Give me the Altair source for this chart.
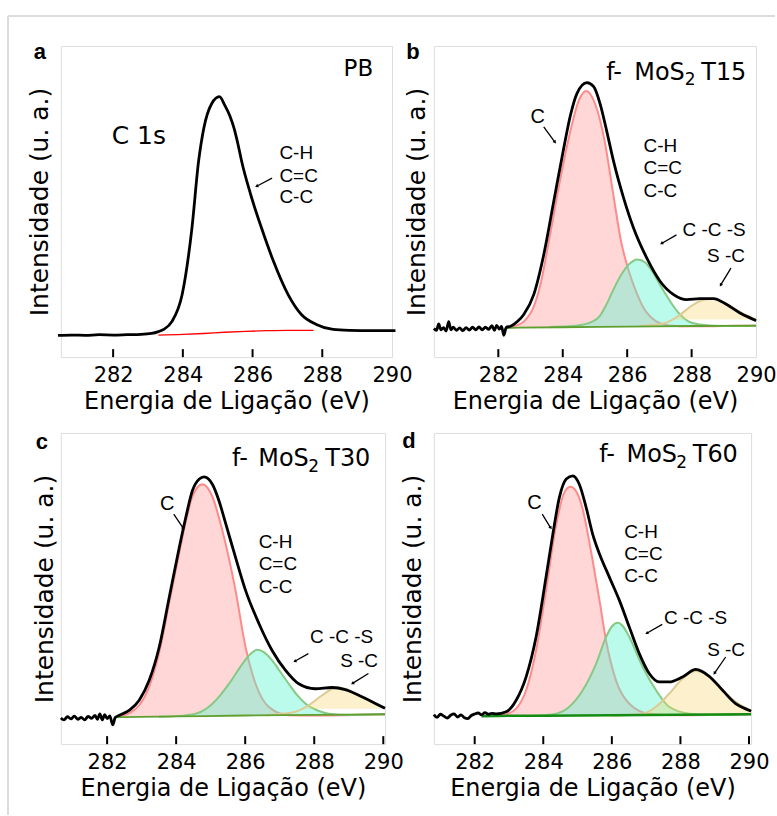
import altair as alt
import numpy as np
import pandas as pd

TICK_VALUES = [282, 284, 286, 288, 290]
X_TITLE = "Energia de Ligação (eV)"
Y_TITLE = "Intensidade (u. a.)"

# ---------------- (a) PB ----------------
A_ENV_E = [280.42, 280.8, 281.2, 281.6, 282.0, 282.4, 282.8, 283.1, 283.3, 283.45,
           283.69, 283.98, 284.26, 284.45, 284.60, 284.83, 285.05, 285.20, 285.35, 285.47,
           285.58, 285.69, 285.95, 286.26, 286.60, 287.02, 287.40, 287.83, 288.31, 288.8,
           289.4, 290.1]
A_ENV_I = [0.70, 0.71, 0.70, 0.72, 0.71, 0.72, 0.73, 0.76, 0.82, 0.89,
           1.15, 2.01, 4.14, 6.28, 7.35, 8.15, 8.37, 8.10, 7.75, 7.35,
           6.85, 6.28, 5.21, 4.14, 3.08, 2.01, 1.37, 1.05, 0.89, 0.86,
           0.85, 0.85]
A_BG_E = [283.3, 284.0, 284.6, 285.2, 285.8, 286.4, 287.0, 287.75]
A_BG_I = [0.71, 0.73, 0.76, 0.80, 0.83, 0.85, 0.86, 0.86]

# ---------------- (b) f-MoS2 T15 ----------------
B_ENV_E = [280.00, 280.08, 280.15, 280.22, 280.30, 280.38, 280.46, 280.53, 280.60, 280.70,
           280.80, 280.90, 281.00, 281.10, 281.20, 281.30, 281.40, 281.50, 281.60, 281.70,
           281.80, 281.88, 281.95, 282.03, 282.10, 282.17, 282.25, 282.38, 282.60, 282.79,
           283.10, 283.41, 283.72, 284.03, 284.24, 284.44, 284.75, 284.96, 285.17, 285.37,
           285.58, 285.89, 286.20, 286.61, 287.02, 287.44, 287.85, 288.26, 288.68, 289.09,
           289.50, 289.92, 290.00]
B_ENV_I = [0.92, 0.86, 1.07, 0.88, 0.95, 0.84, 1.14, 0.88, 0.96, 0.86,
           0.94, 0.85, 0.95, 0.87, 0.96, 0.88, 0.97, 0.88, 0.96, 0.89,
           1.01, 0.86, 1.02, 0.90, 0.99, 0.70, 0.96, 0.99, 1.15, 1.37,
           2.01, 3.29, 5.00, 6.71, 7.78, 8.47, 8.82, 8.69, 8.10, 7.24,
           6.28, 5.11, 4.14, 3.18, 2.44, 2.01, 1.85, 1.88, 1.88, 1.69,
           1.42, 1.21, 1.17]
B_BASE_E = [282.17, 282.22, 282.6, 284.0, 286.0, 288.0, 290.0]
B_BASE_I = [0.72, 0.93, 0.95, 0.96, 0.98, 1.00, 1.01]
B_C_E = [282.22, 282.5, 282.8, 283.1, 283.3, 283.6, 283.9, 284.2, 284.5, 284.73,
         285.0, 285.3, 285.55, 285.81, 286.07, 286.3, 286.5, 286.9, 287.3, 288.0,
         289.0, 290.0]
B_C_I = [0.93, 1.0, 1.15, 1.62, 2.3, 3.9, 5.6, 7.1, 8.25, 8.55,
         8.15, 6.95, 5.35, 3.72, 2.70, 2.05, 1.60, 1.15, 1.02, 0.99,
         1.0, 1.01]
B_CCS_E = [283.6, 284.2, 284.6, 284.9, 285.14, 285.35, 285.55, 285.8, 286.05, 286.32,
           286.55, 286.8, 287.0, 287.2, 287.42, 287.64, 287.9, 288.26, 288.7, 289.3, 290.0]
B_CCS_I = [0.97, 0.99, 1.04, 1.13, 1.31, 1.68, 2.12, 2.62, 2.98, 3.14,
           3.05, 2.72, 2.36, 2.01, 1.66, 1.37, 1.15, 1.05, 1.01, 1.0, 1.01]
B_SC_E = [286.4, 286.8, 287.2, 287.6, 288.0, 288.3, 288.63, 289.0, 289.3, 289.6, 290.0]
B_SC_I = [1.0, 1.03, 1.10, 1.33, 1.65, 1.82, 1.88, 1.76, 1.58, 1.40, 1.21]
B_SC_FLOOR = 1.21

# ---------------- (c) f-MoS2 T30 ----------------
C_ENV_E = [280.66, 280.75, 280.85, 280.95, 281.05, 281.15, 281.25, 281.35, 281.45, 281.55,
           281.65, 281.72, 281.79, 281.86, 281.93, 282.00, 282.08, 282.16, 282.24, 282.36,
           282.65, 282.93, 283.22, 283.51, 283.80, 284.09, 284.28, 284.47, 284.67, 284.81,
           285.05, 285.24, 285.44, 285.72, 286.01, 286.40, 286.78, 287.17, 287.55, 288.03,
           288.52, 288.90, 289.38, 289.96, 290.05]
C_ENV_I = [0.84, 0.78, 0.88, 0.81, 0.90, 0.80, 0.86, 0.78, 0.89, 0.83,
           0.92, 0.80, 0.97, 0.78, 0.95, 0.82, 0.91, 0.62, 0.86, 0.93,
           1.09, 1.41, 2.05, 3.12, 4.72, 6.32, 7.29, 8.14, 8.52, 8.59,
           8.35, 7.82, 7.07, 6.00, 4.94, 3.87, 3.01, 2.37, 1.94, 1.78,
           1.82, 1.75, 1.52, 1.20, 1.15]
C_BASE_E = [282.16, 282.22, 282.5, 284.0, 286.0, 288.0, 290.05]
C_BASE_I = [0.62, 0.86, 0.87, 0.89, 0.92, 0.94, 0.96]
C_C_E = [282.24, 282.65, 282.93, 283.22, 283.51, 283.80, 284.09, 284.28, 284.47, 284.76,
         285.05, 285.34, 285.72, 286.01, 286.30, 286.69, 287.26, 288.0, 290.05]
C_C_I = [0.86, 1.0, 1.25, 1.85, 2.95, 4.55, 6.15, 7.15, 7.95, 8.35,
         7.95, 6.86, 4.94, 3.12, 1.94, 1.19, 0.93, 0.92, 0.96]
C_CCS_E = [283.5, 284.0, 284.57, 285.05, 285.3, 285.53, 285.92, 286.15, 286.35, 286.55,
           286.78, 287.0, 287.26, 287.5, 287.75, 288.1, 288.42, 289.0, 290.05]
C_CCS_I = [0.88, 0.90, 0.98, 1.30, 1.60, 1.94, 2.58, 2.90, 3.03, 2.95,
           2.69, 2.35, 1.94, 1.58, 1.30, 1.08, 0.98, 0.94, 0.96]
C_SC_E = [286.6, 287.0, 287.46, 287.84, 288.23, 288.5, 288.71, 288.95, 289.19, 289.57,
          289.96, 290.05]
C_SC_I = [0.93, 0.97, 1.04, 1.25, 1.57, 1.76, 1.82, 1.76, 1.62, 1.41, 1.20, 1.16]
C_SC_FLOOR = 1.14

# ---------------- (d) f-MoS2 T60 ----------------
D_ENV_E = [280.81, 280.9, 281.0, 281.1, 281.2, 281.3, 281.4, 281.5, 281.6,
           281.7, 281.8, 281.9, 282.0, 282.1, 282.2, 282.3, 282.4, 282.5, 282.63,
           282.92, 283.21, 283.50, 283.79, 284.08, 284.28, 284.47, 284.67, 284.86, 285.05,
           285.25, 285.44, 285.64, 285.93, 286.22, 286.51, 286.80, 287.09, 287.38, 287.67,
           288.06, 288.45, 288.84, 289.23, 289.61, 290.0, 290.06]
D_ENV_I = [0.95, 0.86, 0.96, 0.90, 0.84, 0.93, 0.97, 0.87, 0.94,
           0.85, 0.82, 0.92, 0.97, 1.00, 0.94, 1.01, 0.96, 0.99, 0.97,
           1.04, 1.41, 2.16, 3.44, 5.36, 6.75, 7.93, 8.52, 8.62, 8.35,
           7.61, 6.75, 6.11, 5.36, 4.62, 3.76, 2.91, 2.27, 2.00, 2.00,
           2.16, 2.40, 2.18, 1.73, 1.30, 1.09, 1.06]
D_BASE_E = [282.2, 283.0, 285.0, 287.0, 289.0, 290.06]
D_BASE_I = [0.90, 0.91, 0.92, 0.94, 0.95, 0.96]
D_C_E = [282.6, 282.9, 283.21, 283.5, 283.79, 284.08, 284.38, 284.6, 284.79, 284.97,
         285.15, 285.3, 285.44, 285.64, 285.83, 286.12, 286.51, 287.09, 288.0, 290.06]
D_C_I = [0.90, 0.95, 1.14, 1.73, 3.01, 4.94, 7.07, 8.05, 8.27, 8.10,
         7.55, 6.75, 5.90, 4.62, 3.33, 2.05, 1.30, 0.98, 0.93, 0.96]
D_CCS_E = [283.5, 284.0, 284.38, 284.76, 285.15, 285.54, 285.83, 286.0, 286.17, 286.33,
           286.51, 286.9, 287.29, 287.67, 288.26, 289.0, 290.06]
D_CCS_I = [0.90, 0.93, 0.98, 1.20, 1.73, 2.58, 3.44, 3.78, 3.90, 3.78,
           3.44, 2.48, 1.73, 1.20, 0.98, 0.94, 0.96]
D_SC_E = [286.0, 286.5, 286.9, 287.29, 287.67, 288.06, 288.3, 288.45, 288.6, 288.84,
          289.23, 289.61, 290.0, 290.06]
D_SC_I = [0.92, 0.94, 0.98, 1.20, 1.62, 2.10, 2.30, 2.35, 2.32, 2.16,
          1.73, 1.36, 1.11, 1.08]

# ---------------- annotations (energy, intensity, text, style) ----------------
A_TEXT = [(279.90, 9.58, "a", "letter"), (289.46, 9.04, "PB", "right"),
          (281.96, 6.86, "C 1s", "big"),
          (286.77, 6.38, "C-H", "bond"), (286.77, 5.64, "C=C", "bond"), (286.77, 4.94, "C-C", "bond")]
A_ARROWS = [(286.56, 5.75, 286.13, 5.50, 243)]

B_TEXT = [(279.35, 9.58, "b", "letter"),
          (285.35, 8.92, "f-", "name"), (286.22, 8.92, "MoS", "name"),
          (287.79, 8.76, "2", "sub"), (288.30, 8.92, "T15", "name"),
          (283.22, 7.53, "C", "peak"),
          (286.51, 6.60, "C-H", "bond"), (286.51, 5.87, "C=C", "bond"), (286.51, 5.16, "C-C", "bond"),
          (287.72, 3.88, "C -C -S", "bond"), (288.48, 3.05, "S -C", "bond")]
B_ARROWS = [(283.41, 7.40, 283.75, 6.92, 144), (287.53, 3.93, 287.08, 3.66, 240),
            (289.22, 2.86, 288.91, 2.33, 211)]

C_TEXT = [(280.11, 9.49, "c", "letter"),
          (285.62, 8.94, "f-", "name"), (286.38, 8.94, "MoS", "name"),
          (287.83, 8.73, "2", "sub"), (288.32, 8.94, "T30", "name"),
          (283.74, 7.52, "C", "peak"),
          (286.39, 6.29, "C-H", "bond"), (286.39, 5.58, "C=C", "bond"), (286.39, 4.85, "C-C", "bond"),
          (287.88, 3.26, "C -C -S", "bond"), (288.75, 2.48, "S -C", "bond")]
C_ARROWS = [(283.93, 7.39, 284.20, 6.95, 146), (287.83, 2.91, 287.45, 2.67, 241),
            (289.57, 2.27, 289.12, 1.96, 239)]

D_TEXT = [(280.08, 9.53, "d", "letter"),
          (285.63, 9.07, "f-", "name"), (286.43, 9.07, "MoS", "name"),
          (287.88, 8.87, "2", "sub"), (288.36, 9.07, "T60", "name"),
          (283.74, 7.55, "C", "peak"),
          (286.36, 6.64, "C-H", "bond"), (286.36, 5.92, "C=C", "bond"), (286.36, 5.20, "C-C", "bond"),
          (287.52, 3.85, "C -C -S", "bond"), (288.78, 2.82, "S -C", "bond")]
D_ARROWS = [(283.97, 7.39, 284.21, 6.96, 148), (287.47, 3.85, 287.03, 3.57, 240),
            (289.32, 2.80, 289.00, 2.29, 214)]

TEXT_STYLES = {
    "letter": dict(font="Liberation Sans", fontSize=22, fontWeight="bold", align="center"),
    "name": dict(font="DejaVu Sans", fontSize=24, align="left"),
    "sub": dict(font="DejaVu Sans", fontSize=17, align="left"),
    "right": dict(font="DejaVu Sans", fontSize=23, align="right"),
    "big": dict(font="DejaVu Sans", fontSize=25, align="left"),
    "bond": dict(font="Liberation Sans", fontSize=19, align="left"),
    "peak": dict(font="Liberation Sans", fontSize=20, align="center"),
}

PINK_FILL, PINK_LINE = "#ff2020", "#ff8a8a"
CYAN_FILL, CYAN_LINE = "#5ef5d0", "#85c985"
GOLD_FILL, GOLD_LINE = "#f5d76e", "#dccb95"


def xenc(field, dom):
    return alt.X(f"{field}:Q",
                 scale=alt.Scale(domain=dom, nice=False, zero=False),
                 axis=alt.Axis(values=TICK_VALUES, ticks=False, domain=False, grid=False,
                               format="d", labelFont="DejaVu Sans", labelFontSize=21,
                               labelColor="black", labelPadding=7, labelFlush=False,
                               labelOverlap=False, labelBound=False,
                               title=X_TITLE, titleFont="DejaVu Sans", titleFontSize=24,
                               titleFontWeight="normal", titleColor="black", titlePadding=4))


def yenc(field, pad):
    return alt.Y(f"{field}:Q",
                 scale=alt.Scale(domain=[0, 10], nice=False, zero=False),
                 axis=alt.Axis(labels=False, ticks=False, domain=False, grid=False,
                               title=Y_TITLE, titleFont="DejaVu Sans", titleFontSize=25,
                               titleFontWeight="normal", titleColor="black", titlePadding=pad))


def component(e, i, base_e, base_i, fill, line, opacity, floor=None):
    df = pd.DataFrame({"E": e, "I": i})
    if floor is None:
        df["lo"] = np.interp(df["E"], base_e, base_i)
    else:
        df["lo"] = np.minimum(df["I"], floor)
    return df, fill, line, opacity


def panel(dom, width, height, ypad, env_e, env_i, texts, arrows,
          base=None, comps=(), bg=None, base_color="#5f9f2f", base_width=1.8, frame=False):
    X = lambda f: xenc(f, dom)
    Y = lambda f: yenc(f, ypad)
    layers = []
    for df, fill, line, op in comps:
        layers.append(alt.Chart(df).mark_area(color=fill, opacity=op, interpolate="monotone")
                      .encode(x=X("E"), y=Y("I"), y2="lo:Q"))
        layers.append(alt.Chart(df).mark_line(color=line, strokeWidth=2, interpolate="monotone")
                      .encode(x=X("E"), y=Y("I")))
    if base is not None:
        bdf = pd.DataFrame({"E": base[0], "I": base[1]})
        layers.append(alt.Chart(bdf).mark_line(color=base_color, strokeWidth=base_width,
                                               interpolate="monotone")
                      .encode(x=X("E"), y=Y("I")))
    if bg is not None:
        gdf = pd.DataFrame({"E": bg[0], "I": bg[1]})
        layers.append(alt.Chart(gdf).mark_line(color="#ff0000", strokeWidth=1.3,
                                               interpolate="monotone")
                      .encode(x=X("E"), y=Y("I")))
    edf = pd.DataFrame({"E": env_e, "I": env_i})
    layers.append(alt.Chart(edf).mark_line(color="black", strokeWidth=2.8, interpolate="monotone")
                  .encode(x=X("E"), y=Y("I")))

    # inward ticks on the bottom edge
    tdf = pd.DataFrame({"E": [t for t in TICK_VALUES if dom[0] < t < dom[1]]})
    layers.append(alt.Chart(tdf).mark_rule(color="black", strokeWidth=2)
                  .encode(x=X("E"), y=alt.value(height), y2=alt.value(height - 8)))

    # labels
    txt = pd.DataFrame(texts, columns=["E", "I", "label", "style"])
    for style, props in TEXT_STYLES.items():
        sub = txt[txt["style"] == style]
        if len(sub) == 0:
            continue
        layers.append(alt.Chart(sub).mark_text(color="black", baseline="alphabetic", **props)
                      .encode(x=X("E"), y=Y("I"), text="label:N"))

    # arrows
    adf = pd.DataFrame(arrows, columns=["e1", "i1", "e2", "i2", "ang"])
    layers.append(alt.Chart(adf).mark_rule(color="black", strokeWidth=1.3)
                  .encode(x=X("e1"), y=Y("i1"), x2="e2:Q", y2="i2:Q"))
    layers.append(alt.Chart(adf).mark_point(shape="triangle", filled=True, size=14,
                                            color="black", opacity=1)
                  .encode(x=X("e2"), y=Y("i2"), angle=alt.Angle("ang:Q", scale=None)))

    if frame:
        one = pd.DataFrame({"k": [0]})
        layers.append(alt.Chart(one).mark_rule(color="#dcdcdc", strokeWidth=2)
                      .encode(x=alt.value(-53), x2=alt.value(716), y=alt.value(-30)))
        layers.append(alt.Chart(one).mark_rule(color="#dcdcdc", strokeWidth=2)
                      .encode(x=alt.value(-53), y=alt.value(-30), y2=alt.value(771)))

    return alt.layer(*layers).properties(width=width, height=height)


pa = panel([280.5, 290.0], 332, 312, 8, A_ENV_E, A_ENV_I, A_TEXT, A_ARROWS,
           bg=(A_BG_E, A_BG_I), frame=True)

pb = panel([280.0, 290.0], 323, 312, 4, B_ENV_E, B_ENV_I, B_TEXT, B_ARROWS,
           base=(B_BASE_E, B_BASE_I),
           comps=[component(B_C_E, B_C_I, B_BASE_E, B_BASE_I, PINK_FILL, PINK_LINE, 0.18),
                  component(B_CCS_E, B_CCS_I, B_BASE_E, B_BASE_I, CYAN_FILL, CYAN_LINE, 0.42),
                  component(B_SC_E, B_SC_I, B_BASE_E, B_BASE_I, GOLD_FILL, GOLD_LINE, 0.35,
                            floor=B_SC_FLOOR)])

pc = panel([280.66, 290.05], 325, 312, 3, C_ENV_E, C_ENV_I, C_TEXT, C_ARROWS,
           base=(C_BASE_E, C_BASE_I),
           comps=[component(C_C_E, C_C_I, C_BASE_E, C_BASE_I, PINK_FILL, PINK_LINE, 0.18),
                  component(C_CCS_E, C_CCS_I, C_BASE_E, C_BASE_I, CYAN_FILL, CYAN_LINE, 0.42),
                  component(C_SC_E, C_SC_I, C_BASE_E, C_BASE_I, GOLD_FILL, GOLD_LINE, 0.35,
                            floor=C_SC_FLOOR)])

pd_ = panel([280.81, 290.06], 318, 312, 8, D_ENV_E, D_ENV_I, D_TEXT, D_ARROWS,
            base=(D_BASE_E, D_BASE_I), base_color="#148c14", base_width=2.5,
            comps=[component(D_C_E, D_C_I, D_BASE_E, D_BASE_I, PINK_FILL, PINK_LINE, 0.18),
                   component(D_CCS_E, D_CCS_I, D_BASE_E, D_BASE_I, CYAN_FILL, CYAN_LINE, 0.42),
                   component(D_SC_E, D_SC_I, D_BASE_E, D_BASE_I, GOLD_FILL, GOLD_LINE, 0.35)])

chart = (alt.concat(pa, pb, pc, pd_, columns=2, bounds="flush",
                    spacing=alt.RowColnumber(row=76, column=42))
         .properties(padding={"left": 6, "top": 13, "right": 0, "bottom": 0})
         .configure_view(stroke="black", strokeWidth=2.5)
         .configure(background="white"))

chart.save("out.html", embed_options={"renderer": "svg", "actions": False})
